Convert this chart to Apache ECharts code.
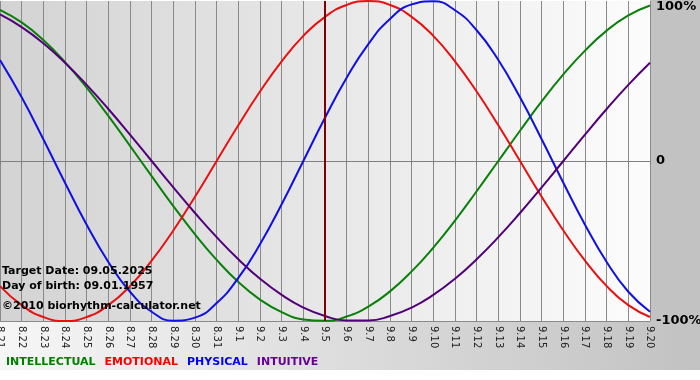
<!DOCTYPE html>
<html>
<head>
<meta charset="utf-8">
<script src="https://cdn.jsdelivr.net/npm/echarts@6/dist/echarts.min.js"></script>
<style>html,body{margin:0;padding:0;background:#fff;}#c{width:700px;height:380px;}</style>
</head>
<body>
<div id="c"></div>
<script>
const days = ['8.21','8.22','8.23','8.24','8.25','8.26','8.27','8.28','8.29','8.30','8.31',
  '9.1','9.2','9.3','9.4','9.5','9.6','9.7','9.8','9.9','9.10','9.11','9.12','9.13','9.14','9.15','9.16','9.17','9.18','9.19','9.20'];
const intellectual = [0.945,0.866,0.756,0.618,0.458,0.282,0.095,-0.095,-0.282,-0.458,-0.618,-0.756,-0.866,-0.945,-0.990,-0.999,-0.972,-0.910,-0.815,-0.690,-0.541,-0.372,-0.189,0.0,0.189,0.372,0.541,0.690,0.815,0.910,0.972];
const emotional = [-0.782,-0.901,-0.975,-1.0,-0.975,-0.901,-0.782,-0.623,-0.434,-0.223,0.0,0.223,0.434,0.623,0.782,0.901,0.975,1.0,0.975,0.901,0.782,0.623,0.434,0.223,0.0,-0.223,-0.434,-0.623,-0.782,-0.901,-0.975];
const physical = [0.631,0.398,0.136,-0.136,-0.398,-0.631,-0.817,-0.942,-0.998,-0.979,-0.888,-0.731,-0.520,-0.270,0.0,0.270,0.520,0.731,0.888,0.979,0.998,0.942,0.817,0.631,0.398,0.136,-0.136,-0.398,-0.631,-0.817,-0.942];
const intuitive = [0.916,0.837,0.736,0.614,0.476,0.325,0.165,0.0,-0.165,-0.325,-0.476,-0.614,-0.736,-0.837,-0.916,-0.969,-0.997,-0.997,-0.969,-0.916,-0.837,-0.736,-0.614,-0.476,-0.325,-0.165,0.0,0.165,0.325,0.476,0.614];
const targetDay = '9.5';
const yTicks = {'1':'100%','0':'0','-1':'-100%'};
const infoLines = ['Target Date: 09.05.2025','Day of birth: 09.01.1957','\u00a92010 biorhythm-calculator.net'];
const seriesNames = ['INTELLECTUAL','EMOTIONAL','PHYSICAL','INTUITIVE'];

const lineColors = ['#0a800a','#e81010','#1010e0','#52007a'];
const legendColors = ['#008000','#ff0000','#0000ff','#660099'];
const values = [intellectual, emotional, physical, intuitive];

const chart = echarts.init(document.getElementById('c'), null, {renderer:'canvas'});
const series = seriesNames.map((n,i)=>({
  name:n, type:'line', data:values[i], smooth:true, showSymbol:false, symbol:'none',
  lineStyle:{color:lineColors[i], width:2}, itemStyle:{color:lineColors[i]}, z:3,
  markLine: i===0 ? {silent:true, symbol:['none','none'], label:{show:false},
    lineStyle:{color:'#800000', width:2, type:'solid'}, data:[{xAxis:targetDay}], z:5} : undefined
}));

chart.setOption({
  animation:false,
  backgroundColor:'#ffffff',
  graphic:[
    {type:'rect', shape:{x:650,y:0,width:50,height:321}, style:{fill:'#c2c2c2'}, z:-10, silent:true},
    {type:'rect', shape:{x:0,y:321,width:700,height:49}, style:{fill:new echarts.graphic.LinearGradient(0,0,1,0,[{offset:0,color:'#f6f6f6'},{offset:1,color:'#c2c2c2'}])}, z:-10, silent:true},
    {type:'text', left:2, top:266, style:{text:infoLines[0], font:'bold 11px "DejaVu Sans"', fill:'#000'}, z:20},
    {type:'text', left:2, top:281, style:{text:infoLines[1], font:'bold 11px "DejaVu Sans"', fill:'#000'}, z:20},
    {type:'text', left:2, top:301, style:{text:infoLines[2], font:'bold 11px "DejaVu Sans"', fill:'#000'}, z:20}
  ],
  legend:{
    left:-4, top:350, icon:'none', itemWidth:0, itemHeight:14, itemGap:4,
    selectedMode:false,
    textStyle:{fontFamily:'DejaVu Sans', fontWeight:'bold', fontSize:11},
    data: seriesNames.map((n,i)=>({name:n, textStyle:{color:legendColors[i], fontWeight:'bold', fontFamily:'DejaVu Sans', fontSize:11}}))
  },
  grid:{left:0, right:50, top:1, bottom:59, show:true, borderWidth:0, containLabel:false, outerBoundsMode:'none',
    backgroundColor:new echarts.graphic.LinearGradient(0,0,1,0,[{offset:0,color:'#d3d3d3'},{offset:1,color:'#fcfcfc'}])},
  xAxis:{
    type:'category', data:days, boundaryGap:false,
    axisLine:{show:true, lineStyle:{color:'#808080', width:1}},
    axisTick:{show:true, length:4, lineStyle:{color:'#808080'}, alignWithLabel:true},
    axisLabel:{rotate:-90, interval:0, margin:5, color:'#222', fontFamily:'DejaVu Sans', fontSize:10, hideOverlap:false},
    splitLine:{show:true, lineStyle:{color:'#8a8a8a', width:1}}
  },
  yAxis:{
    type:'value', position:'right', min:-1, max:1, interval:1,
    axisLine:{show:false}, axisTick:{show:false},
    axisLabel:{margin:6, color:'#000', fontFamily:'DejaVu Sans', fontWeight:'bold', fontSize:13,
      formatter:v=>{const t=yTicks[String(v)]; return v===1?'{t|'+t+'}':t;},
      rich:{t:{padding:[12,0,0,0], fontFamily:'DejaVu Sans', fontWeight:'bold', fontSize:13, color:'#000'}}},
    splitLine:{show:true, lineStyle:{color:['#8a8a8a','#8a8a8a','rgba(0,0,0,0)'], width:1}}
  },
  series:series
});
</script>
</body>
</html>
